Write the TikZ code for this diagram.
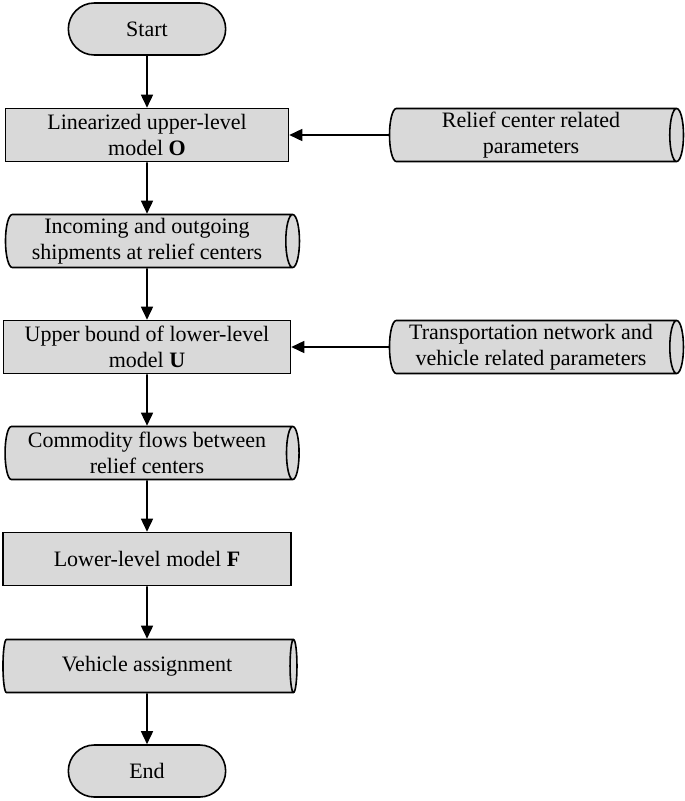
\documentclass[tikz,border=0pt]{standalone}
\usepackage{fontspec}
\setmainfont{Liberation Serif}
\usetikzlibrary{shapes.misc,shapes.geometric}
\usetikzlibrary{arrows.meta}

\tikzset{
  terminal/.style={rounded rectangle,draw,fill=gray!30,minimum width=164pt,minimum height=52pt},
  process/.style={rectangle,draw,fill=gray!30,align=center,minimum height=53pt},
  datastore/.style={cylinder,draw,fill=gray!30,align=center,aspect=0.26,minimum height=294pt,minimum width=53pt,inner xsep=2pt},
  flow/.style={-{Triangle[length=13pt,width=12pt]}}
}

\begin{document}
\begin{tikzpicture}[x=1pt,y=-1pt,line width=1.6pt,font=\fontsize{22}{26}\selectfont]
  \useasboundingbox (0,0) rectangle (685,801);

  \node (start) at (147,29) [terminal] {Start};
  \node (upper) at (147,135) [process,minimum width=283pt] {Linearized upper-level\\model \textbf{O}};
  \node (centerpar) at (531,135) [datastore] {Relief center related\\parameters};
  \node (shipments) at (147,241) [datastore] {Incoming and outgoing\\shipments at relief centers};
  \node (bound) at (147,347) [process,minimum width=287pt] {Upper bound of lower-level\\model \textbf{U}};
  \node (netpar) at (531,347) [datastore] {Transportation network and\\vehicle related parameters};
  \node (flows) at (147,453) [datastore] {Commodity flows between\\relief centers};
  \node (lower) at (147,559) [process,minimum width=288pt] {Lower-level model \textbf{F}};
  \node (assign) at (147,666) [datastore] {Vehicle assignment};
  \node (finish) at (147,771) [terminal] {End};

  \draw [flow] (start) -- (upper);
  \draw [flow] (upper) -- (shipments);
  \draw [flow] (shipments) -- (bound);
  \draw [flow] (bound) -- (flows);
  \draw [flow] (flows) -- (lower);
  \draw [flow] (lower) -- (assign);
  \draw [flow] (assign) -- (finish);
  \draw [flow] (centerpar) -- (upper);
  \draw [flow] (netpar) -- (bound);
\end{tikzpicture}
\end{document}
